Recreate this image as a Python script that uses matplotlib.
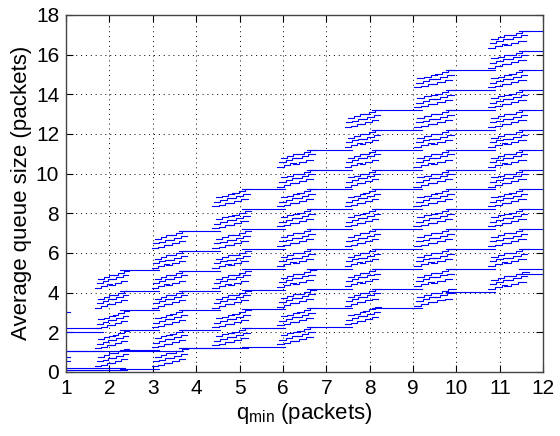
import matplotlib.pyplot as plt
import matplotlib as mpl

mpl.rcParams["font.family"] = ["Liberation Sans", "DejaVu Sans"]

# x-ranges where the curves climb
clu_start = [1.7, 3.0, 4.4, 5.9, 7.45, 9.05, 10.75]
clu_end = [2.4, 3.75, 5.2, 6.7, 8.2, 9.9, 11.6]

# flat levels between the climbing zones (region k ends at clu_start[k])
flat_levels = [
    [0.1, 1.05, 2.0],
    [0.15, 1.1, 2.1, 3.1, 4.1, 5.15],
    [1.2, 2.1, 3.1, 4.1, 5.1, 6.1, 7.1],
    [1.25, 2.2, 3.15, 4.15, 5.2, 6.2, 7.2, 8.2, 9.2],
    [2.25, 3.2, 4.2, 5.2, 6.2, 7.2, 8.2, 9.2, 10.2, 11.2],
    [3.2, 4.2, 5.2, 6.2, 7.2, 8.2, 9.2, 10.2, 11.2, 12.2, 13.2],
    [4.05, 5.2, 6.2, 7.2, 8.2, 9.2, 10.2, 11.2, 12.2, 13.2, 14.2, 15.2],
    [4.95, 5.2, 6.2, 7.2, 8.2, 9.2, 10.2, 11.2, 12.2, 13.2, 14.2, 15.2, 16.2, 17.2],
]
flat_from = [1.0, 2.25, 3.6, 5.05, 6.55, 8.05, 9.75, 11.45]
flat_to = [1.85, 3.15, 4.55, 6.05, 7.6, 9.2, 10.9, 12.0]

# lower level of every band that climbs in each zone
bands = [
    [0.15, 1.05, 2.05, 3.1, 4.1],
    [0.15, 1.1, 2.1, 3.1, 4.1, 5.1, 6.1],
    [1.2, 2.1, 3.1, 4.1, 5.1, 6.1, 7.1, 8.2],
    [1.25, 2.2, 3.15, 4.15, 5.2, 6.2, 7.2, 8.2, 9.2, 10.2],
    [2.25, 3.2, 4.2, 5.2, 6.2, 7.2, 8.2, 9.2, 10.2, 11.2, 12.2],
    [3.2, 4.2, 5.2, 6.2, 7.2, 8.2, 9.2, 10.2, 11.2, 12.2, 13.2, 14.2],
    [4.05, 5.2, 6.2, 7.2, 8.2, 9.2, 10.2, 11.2, 12.2, 13.2, 14.2, 15.2, 16.2],
]

# shape of the small staircases inside a band (fraction of zone width, rise above band level)
stair_f = [
    [-0.04, 0.16, 0.34, 0.50],
    [0.02, 0.20, 0.38, 0.56],
    [0.06, 0.24, 0.42, 0.60],
    [0.42, 0.60, 0.80, 1.00],
    [0.48, 0.66, 0.86, 1.04],
    [0.54, 0.72, 0.90, 1.08],
]
stair_dy = [
    [0.14, 0.22, 0.32, 0.32],
    [0.38, 0.47, 0.56, 0.56],
    [0.60, 0.69, 0.78, 0.78],
    [0.30, 0.40, 0.50, 0.50],
    [0.56, 0.66, 0.76, 0.76],
    [0.80, 0.90, 1.00, 1.00],
]

# short pieces at the left border and the lowest flat runs
extra_x0 = [1.0, 1.0, 1.0, 1.0, 1.0, 1.0, 1.0, 3.6]
extra_x1 = [1.08, 1.08, 1.75, 1.08, 2.35, 3.7, 2.4, 5.2]
extra_y = [0.55, 0.75, 2.2, 3.0, 0.22, 1.05, 0.1, 1.2]

blue = "#0000ff"
fig = plt.figure(figsize=(5.6, 4.36), dpi=100)
ax = fig.add_axes([0.118, 0.147, 0.852, 0.819])

for k, levels in enumerate(flat_levels):
    for y in levels:
        ax.plot([flat_from[k], flat_to[k]], [y, y], color=blue, lw=0.8)

for k, bl in enumerate(bands):
    w = clu_end[k] - clu_start[k]
    for L in bl:
        for fs, ds in zip(stair_f, stair_dy):
            xs = [clu_start[k] + f * w for f in fs]
            ys = [L + d for d in ds]
            ax.plot(xs, ys, color=blue, lw=0.8, drawstyle="steps-post")

for x0, x1, y in zip(extra_x0, extra_x1, extra_y):
    ax.plot([x0, x1], [y, y], color=blue, lw=0.8)

ax.set_xlim(1, 12)
ax.set_ylim(0, 18)
ax.set_xticks(range(1, 13))
ax.set_yticks(range(0, 19, 2))
ax.grid(True, color="k", linestyle=(0, (1, 4)), linewidth=0.7)
ax.tick_params(direction="in", top=True, right=True, length=5, labelsize=15, pad=5)
for s in ax.spines.values():
    s.set_color("#444444")
    s.set_linewidth(1.0)

ax.set_xlabel(r"$\mathregular{q_{min}}$ (packets)", fontsize=16, labelpad=2)
ax.set_ylabel("Average queue size (packets)", fontsize=16, labelpad=3)

fig.savefig("out.png", dpi=100)
